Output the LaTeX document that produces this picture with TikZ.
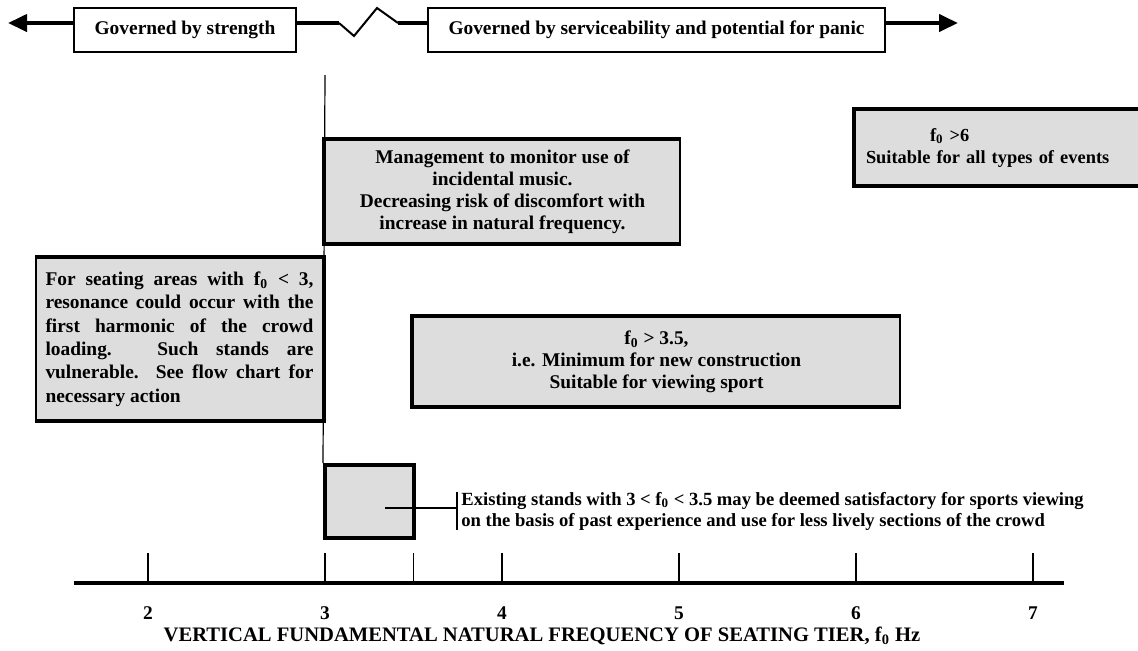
\documentclass[tikz,border=0pt]{standalone}
\usepackage{fontspec}
\setmainfont{Liberation Serif}
\usetikzlibrary{arrows.meta}
\definecolor{panelgray}{HTML}{DDDDDD}

\begin{document}
\begin{tikzpicture}[x=0.5pt, y=-0.5pt,
  every node/.style={font=\fontsize{9.7}{11}\selectfont\bfseries},
  topbox/.style={draw, line width=0.6pt, minimum height=22pt, inner sep=0pt},
  panel/.style={fill=panelgray, draw, line width=0.6pt, inner sep=0pt, align=center},
  heavy/.style={line width=2pt},
  bigarrow/.style={line width=2pt, -{Triangle[length=9.5pt,width=8.5pt]}},
  tick/.style={line width=0.6pt}]
  \useasboundingbox (0,0) rectangle (1138,650);

  % governing regimes
  \node (strength) at (185,30) [topbox, minimum width=111pt] {Governed by strength};
  \node (service) at (656.5,30) [topbox, minimum width=228.5pt] {Governed by serviceability and potential for panic};
  \coordinate (lefttip) at (8,23);
  \coordinate (righttip) at (958,23);
  \coordinate (zigA) at (339,23);
  \coordinate (zigB) at (398,23);
  \draw[bigarrow] ([yshift=3.5pt]strength.west) -- (lefttip);
  \draw[heavy] ([yshift=3.5pt]strength.east) -- (zigA);
  \draw[line width=1pt] (zigA) -- (354,36) -- (377,8) -- (zigB);
  \draw[heavy] (zigB) -- ([yshift=3.5pt]service.west);
  \draw[bigarrow] ([yshift=3.5pt]service.east) -- (righttip);

  % frequency bands
  \node (mgmt) at (502.5,191.5) [panel, minimum width=177.5pt, minimum height=51.5pt] {Management to monitor use of\\ incidental music.\\ Decreasing risk of discomfort with\\ increase in natural frequency.};
  \draw[heavy] (mgmt.north east) -- (mgmt.north west) -- (mgmt.south west) -- (mgmt.south east);

  \node (six) at (998.5,147.5) [panel, inner xsep=5.5pt, text width=132.5pt, align=left, minimum height=37.5pt, font=\fontsize{9.2}{11}\selectfont\bfseries] {\hspace*{32pt}f\textsubscript{0} >6\\ Suitable for all types of events};
  \draw[heavy] (six.north east) -- (six.north west) -- (six.south west) -- (six.south east);

  \node (vuln) at (179.5,339) [panel, minimum width=143.5pt, minimum height=81pt, text width=134pt, align=justify, font=\fontsize{9.7}{11.7}\selectfont\bfseries] {For seating areas with f\textsubscript{0} < 3,\linebreak resonance could occur with the\linebreak first harmonic of the crowd\linebreak loading.  Such stands are\linebreak vulnerable.  See flow chart for\linebreak necessary action};
  \draw[heavy] (vuln.north west) -- (vuln.north east) -- (vuln.south east) -- (vuln.south west);

  \node (sport) at (656.5,361.5) [panel, minimum width=243.5pt, minimum height=44.5pt] {f\textsubscript{0} > 3.5,\\ i.e. Minimum for new construction\\ Suitable for viewing sport};
  \draw[heavy] (sport.north east) -- (sport.north west) -- (sport.south west) -- (sport.south east);

  \node (small) at (369.5,501.5) [panel, heavy, minimum width=44.5pt, minimum height=36.5pt] {};
  \coordinate (threetop) at (325,75);
  \draw[tick] (threetop) -- (small.north west);

  % note on existing stands
  \node (note) at (457,511) [anchor=west, align=left, inner xsep=2pt, inner ysep=0pt, font=\fontsize{9.3}{10.5}\selectfont\bfseries] {Existing stands with 3 < f\textsubscript{0} < 3.5 may be deemed satisfactory for sports viewing\\ on the basis of past experience and use for less lively sections of the crowd};
  \coordinate (lead) at (385,508);
  \draw[tick] (note.north west) -- (note.south west);
  \draw[tick] (lead) -- (lead -| note.west);

  % frequency axis
  \coordinate (axl) at (74,583);
  \coordinate (axr) at (1064,583);
  \draw[heavy] (axl) -- (axr);
  \foreach \f in {2,3,3.5,4,5,6,7}
    \draw[tick] ({148+(\f-2)*177},553) -- ({148+(\f-2)*177},583);
  \foreach \f in {2,...,7}
    \node (n\f) at ({148+(\f-2)*177},613) {\f};
  \node (title) at (542,636) [font=\fontsize{10.3}{11}\selectfont\bfseries] {VERTICAL FUNDAMENTAL NATURAL FREQUENCY OF SEATING TIER, f\textsubscript{0} Hz};
\end{tikzpicture}
\end{document}
